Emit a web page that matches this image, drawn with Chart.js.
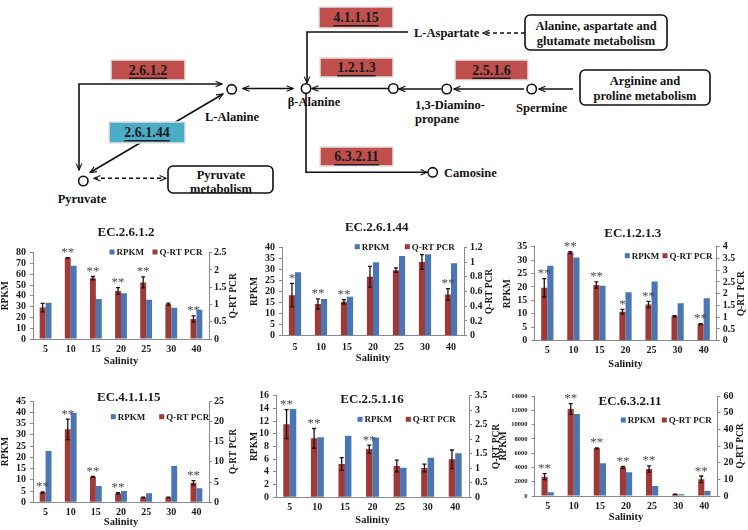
<!DOCTYPE html>
<html>
<head>
<meta charset="utf-8">
<script src="https://cdn.jsdelivr.net/npm/chart.js@4.4.1/dist/chart.umd.min.js"></script>
<style>
  html, body { margin: 0; padding: 0; background: #fff; }
  #page { position: relative; width: 748px; height: 530px; overflow: hidden; }
  #page canvas { position: absolute; }
  #pathway { position: absolute; left: 0; top: 0; }
  .box-label { font-size: 14px; text-decoration: underline; }
</style>
</head>
<body>
<div id="page">

<!-- pathway diagram (not data, just the sketch above the charts) -->
<svg id="pathway" width="748" height="212" font-family="'Liberation Serif', 'Times New Roman', serif" font-weight="bold">
  <defs>
    <marker id="ah" viewBox="0 0 10 10" refX="9" refY="5" markerWidth="8" markerHeight="8"
            markerUnits="userSpaceOnUse" orient="auto-start-reverse">
      <path d="M1,1.5 L9,5 L1,8.5" fill="none" stroke="#111" stroke-width="1.4"/>
    </marker>
  </defs>

  <g stroke="#111" stroke-width="1.6" fill="none">
    <path d="M222,84 H79 V170" marker-start="url(#ah)" marker-end="url(#ah)"/>
    <path d="M90,172.5 L223,94" marker-start="url(#ah)" marker-end="url(#ah)"/>
    <path d="M243,88.5 H293" marker-start="url(#ah)" marker-end="url(#ah)"/>
    <path d="M408,32 H307 V83" marker-end="url(#ah)"/>
    <path d="M388,88.5 H312" marker-end="url(#ah)"/>
    <path d="M306,93 V172.3 H427" marker-end="url(#ah)"/>
    <path d="M441,89 H399" marker-end="url(#ah)"/>
    <path d="M524,89 H454" marker-end="url(#ah)"/>
    <path d="M573,89 H539" marker-end="url(#ah)"/>
    <path d="M525,33 H483" stroke-dasharray="4 3" marker-end="url(#ah)"/>
    <path d="M94,178.3 H166" stroke-dasharray="4 3" marker-start="url(#ah)" marker-end="url(#ah)"/>
  </g>

  <!-- enzyme boxes -->
  <g stroke="#e2e2e2" stroke-width="1.5">
    <rect x="111" y="60" width="74" height="20" fill="#C0504D"/>
    <rect x="109" y="122" width="76" height="21" fill="#4BACC6"/>
    <rect x="319" y="7" width="74" height="21" fill="#C0504D"/>
    <rect x="320" y="58" width="73" height="19" fill="#C0504D"/>
    <rect x="320" y="147" width="73" height="19" fill="#C0504D"/>
    <rect x="455" y="60" width="73" height="20" fill="#C0504D"/>
  </g>
  <g fill="#1a1a1a" text-anchor="middle" dominant-baseline="central">
    <text class="box-label" x="148" y="70">2.6.1.2</text>
    <text class="box-label" x="147" y="132.5">2.6.1.44</text>
    <text class="box-label" x="356" y="17.5">4.1.1.15</text>
    <text class="box-label" x="356.5" y="67.5">1.2.1.3</text>
    <text class="box-label" x="356.5" y="156.5">6.3.2.11</text>
    <text class="box-label" x="491.5" y="70">2.5.1.6</text>
  </g>

  <!-- metabolism boxes -->
  <g fill="#fff" stroke="#111" stroke-width="1.6">
    <rect x="168" y="166" width="105" height="27" rx="5"/>
    <rect x="525" y="15" width="142" height="35" rx="5"/>
    <rect x="580" y="70" width="130" height="35" rx="5"/>
  </g>

  <!-- compounds -->
  <g fill="#fff" stroke="#111" stroke-width="1.6">
    <circle cx="83.3" cy="181" r="4.7"/>
    <circle cx="231.7" cy="89.3" r="4.7"/>
    <circle cx="306" cy="88.5" r="4.7"/>
    <circle cx="393.3" cy="88.5" r="4.7"/>
    <circle cx="446.7" cy="89" r="4.7"/>
    <circle cx="531.7" cy="89" r="4.7"/>
    <circle cx="432.7" cy="172.3" r="4.7"/>
  </g>

  <g fill="#111" font-size="12.5" dominant-baseline="central">
    <text x="82" y="199" text-anchor="middle">Pyruvate</text>
    <text x="232" y="117" text-anchor="middle">L-Alanine</text>
    <text x="314" y="102" text-anchor="middle">β-Alanine</text>
    <text x="415" y="105">1,3-Diamino-</text>
    <text x="415" y="119">propane</text>
    <text x="541.7" y="108.3" text-anchor="middle">Spermine</text>
    <text x="414" y="33">L-Aspartate</text>
    <text x="444" y="173">Camosine</text>
    <text x="221" y="174.5" text-anchor="middle">Pyruvate</text>
    <text x="221" y="188.5" text-anchor="middle">metabolism</text>
    <text x="596" y="26" text-anchor="middle">Alanine, aspartate and</text>
    <text x="596" y="41" text-anchor="middle">glutamate metabolism</text>
    <text x="645" y="81" text-anchor="middle">Arginine and</text>
    <text x="645" y="96" text-anchor="middle">proline metabolism</text>
  </g>
</svg>

<canvas id="c2612"></canvas>
<canvas id="c26144"></canvas>
<canvas id="c1213"></canvas>
<canvas id="c41115"></canvas>
<canvas id="c25116"></canvas>
<canvas id="c63211"></canvas>

<script>
// ---------------------------------------------------------------------------
// Data. Q-RT PCR values are on the right axis.
// ---------------------------------------------------------------------------
const salinity = ['5', '10', '15', '20', '25', '30', '40'];

// EC.2.6.1.2
const rpkm2612 = [33.5, 68, 37, 42.3, 36.5, 29, 27];
const qpcr2612 = [0.91, 2.35, 1.76, 1.39, 1.64, 1.01, 0.58];
const err2612 = [0.12, 0.01, 0.05, 0.1, 0.16, 0.03, 0.09];
const star2612 = ['', '**', '**', '**', '**', '', '**'];
const axis2612 = [80, 10, 2.5, 0.5];      // left max, left step, right max, right step

// EC.2.6.1.44
const rpkm26144 = [28.7, 16.6, 17.6, 33.2, 36.1, 36.8, 32.8];
const qpcr26144 = [0.55, 0.43, 0.46, 0.8, 0.89, 1.0, 0.56];
const err26144 = [0.16, 0.07, 0.03, 0.14, 0.03, 0.1, 0.08];
const star26144 = ['*', '**', '**', '', '', '', '**'];
const axis26144 = [40, 5, 1.2, 0.2];

// EC.1.2.1.3
const rpkm1213 = [27.9, 31, 20.5, 18, 22, 13.9, 15.8];
const qpcr1213 = [2.25, 3.75, 2.37, 1.23, 1.54, 1.04, 0.71];
const err1213 = [0.39, 0.04, 0.13, 0.1, 0.13, 0.03, 0.02];
const star1213 = ['**', '**', '**', '*', '**', '', '**'];
const axis1213 = [35, 5, 4, 0.5];

// EC.4.1.1.15
const rpkm41115 = [22.8, 39.8, 7.2, 5, 4, 16.1, 6.2];
const qpcr41115 = [2.4, 18.0, 6.3, 2.2, 1.2, 1.2, 4.8];
const err41115 = [0.15, 2.55, 0.1, 0.17, 0.05, 0.05, 0.57];
const star41115 = ['**', '**', '**', '**', '', '', '**'];
const axis41115 = [45, 5, 25, 5];

// EC.2.5.1.16
const rpkm25116 = [13.9, 9.45, 9.7, 9.4, 4.66, 6.24, 6.93];
const qpcr25116 = [2.52, 2.03, 1.15, 1.66, 1.08, 1.01, 1.31];
const err25116 = [0.5, 0.34, 0.22, 0.14, 0.2, 0.13, 0.32];
const star25116 = ['**', '**', '', '**', '', '', ''];
const axis25116 = [16, 2, 3.5, 0.5];

// EC.6.3.2.11
const rpkm63211 = [513, 11480, 4573, 3313, 1400, 233, 700];
const qpcr63211 = [11.6, 52.2, 28.6, 17.2, 16.2, 1.0, 10.0];
const err63211 = [1.8, 3.2, 0.3, 0.6, 1.9, 0.1, 2.0];
const star63211 = ['**', '**', '**', '**', '**', '', '**'];
const axis63211 = [14000, 2000, 60, 10];

// ---------------------------------------------------------------------------
// Style
// ---------------------------------------------------------------------------
const FONT = "'Liberation Serif', 'Times New Roman', serif";
const RED = '#9E3B38';
const BLUE = '#4A76B5';
const AXIS = '#8a8a8a';
const INK = '#1a1a1a';

Chart.defaults.font.family = FONT;
Chart.defaults.font.weight = 'bold';
Chart.defaults.font.size = 10;
Chart.defaults.color = INK;
Chart.defaults.animation = false;
Chart.defaults.plugins.legend.display = false;
Chart.defaults.plugins.tooltip.enabled = false;

const fmt = v => String(+Number(v).toFixed(2));

/**
 * One dual-axis bar panel. `lay` holds page positions (box, plot area, labels).
 */
function makeChart(id, lay, rpkm, qpcr, err, stars, axis) {
  const [cx, cy, cw, ch] = lay.box;
  const [al, at, ar, ab] = lay.area;
  const canvas = document.getElementById(id);
  canvas.width = cw;
  canvas.height = ch;
  canvas.style.left = cx + 'px';
  canvas.style.top = cy + 'px';

  // extra marks: error bars, asterisks, category labels, title, legend, axis titles
  const decor = {
    id: 'decor_' + id,
    afterDraw(chart) {
      const { ctx, chartArea } = chart;
      const y1 = chart.scales.y1;
      const xs = chart.scales.x;
      const meta = chart.getDatasetMeta(0);
      ctx.save();

      // error bars on Q-RT PCR
      ctx.strokeStyle = '#241010';
      ctx.lineWidth = 1.3;
      meta.data.forEach((bar, i) => {
        const v = qpcr[i], e = err[i];
        const top = y1.getPixelForValue(v + e);
        const bot = y1.getPixelForValue(v - e);
        ctx.beginPath();
        ctx.moveTo(bar.x, top); ctx.lineTo(bar.x, bot);
        ctx.moveTo(bar.x - 2, top); ctx.lineTo(bar.x + 2, top);
        ctx.moveTo(bar.x - 2, bot); ctx.lineTo(bar.x + 2, bot);
        ctx.stroke();
        if (stars[i]) {
          ctx.fillStyle = '#4a4a4a';
          ctx.font = '13px ' + FONT;
          ctx.textAlign = 'center';
          ctx.textBaseline = 'alphabetic';
          ctx.fillText(stars[i], bar.x, top - 1.5);
        }
      });

      // category labels
      ctx.fillStyle = INK;
      ctx.font = 'bold 10px ' + FONT;
      ctx.textAlign = 'center';
      ctx.textBaseline = 'middle';
      salinity.forEach((s, i) => {
        ctx.fillText(s, xs.getPixelForValue(i), lay.xLabelY - cy);
      });

      // title
      ctx.font = 'bold 13px ' + FONT;
      ctx.fillText(lay.title[0], lay.title[1] - cx, lay.title[2] - cy);

      // legend: RPKM first, then Q-RT PCR
      const [lb, lr, ly] = lay.legend;
      ctx.font = 'bold 9px ' + FONT;
      ctx.textAlign = 'left';
      ctx.fillStyle = BLUE;
      ctx.fillRect(lb - cx - 2.5, ly - cy - 2.5, 5, 5);
      ctx.fillStyle = RED;
      ctx.fillRect(lr - cx - 2.5, ly - cy - 2.5, 5, 5);
      ctx.fillStyle = INK;
      ctx.fillText('RPKM', lb - cx + 4.5, ly - cy + 0.5);
      ctx.fillText('Q-RT PCR', lr - cx + 4.5, ly - cy + 0.5);

      // x title
      ctx.font = 'bold 10.5px ' + FONT;
      ctx.textAlign = 'center';
      ctx.fillText('Salinity', (chartArea.left + chartArea.right) / 2, lay.salY - cy);

      // rotated y titles
      const midY = (chartArea.top + chartArea.bottom) / 2;
      ctx.font = 'bold 9.5px ' + FONT;
      [['RPKM', lay.yTitles[0]], ['Q-RT PCR', lay.yTitles[1]]].forEach(([txt, x]) => {
        ctx.save();
        ctx.translate(x - cx, midY);
        ctx.rotate(-Math.PI / 2);
        ctx.fillText(txt, 0, 0);
        ctx.restore();
      });

      ctx.restore();
    }
  };

  const yGrid = { drawOnChartArea: false, drawTicks: true, tickLength: 3, color: AXIS };

  return new Chart(canvas, {
    type: 'bar',
    data: {
      labels: salinity,
      datasets: [
        { label: 'Q-RT PCR', data: qpcr, yAxisID: 'y1', backgroundColor: RED },
        { label: 'RPKM', data: rpkm, yAxisID: 'y', backgroundColor: BLUE }
      ]
    },
    options: {
      responsive: false,
      devicePixelRatio: 1,
      categoryPercentage: 0.47,
      barPercentage: 1,
      layout: { padding: { top: at - cy, left: 0, right: 0, bottom: 0 } },
      scales: {
        x: {
          grid: { display: false },
          border: { color: AXIS },
          ticks: { display: false },
          afterFit: s => { s.height = cy + ch - ab; }
        },
        y: {
          position: 'left',
          min: 0, max: axis[0],
          grid: yGrid,
          border: { color: AXIS },
          ticks: {
            stepSize: axis[1], autoSkip: false, padding: 4,
            font: { size: lay.leftFont || 10 }, callback: fmt
          },
          afterFit: s => { s.width = al - cx; }
        },
        y1: {
          position: 'right',
          min: 0, max: axis[2],
          grid: yGrid,
          border: { color: AXIS },
          ticks: {
            stepSize: axis[3], autoSkip: false, padding: lay.rightPad,
            font: { size: 10 }, callback: fmt
          },
          afterFit: s => { s.width = cx + cw - ar; }
        }
      }
    },
    plugins: [decor]
  });
}

makeChart('c2612', {
  box: [0, 215, 250, 155], area: [33, 252.7, 209, 339],
  title: ['EC.2.6.1.2', 126, 233], legend: [112, 155, 252],
  xLabelY: 349, salY: 361, yTitles: [6, 234], rightPad: 2
}, rpkm2612, qpcr2612, err2612, star2612, axis2612);

makeChart('c26144', {
  box: [250, 210, 250, 160], area: [282, 247.3, 464, 335.7],
  title: ['EC.2.6.1.44', 376.7, 227.7], legend: [357.3, 407.3, 246.7],
  xLabelY: 347, salY: 358, yTitles: [255, 490], rightPad: 3
}, rpkm26144, qpcr26144, err26144, star26144, axis26144);

makeChart('c1213', {
  box: [495, 215, 253, 155], area: [534.3, 246.7, 716.7, 340.7],
  title: ['EC.1.2.1.3', 632.8, 233.3], legend: [627.3, 665, 255.7],
  xLabelY: 350.7, salY: 364, yTitles: [508, 742], rightPad: 3
}, rpkm1213, qpcr1213, err1213, star1213, axis1213);

makeChart('c41115', {
  box: [0, 385, 250, 145], area: [33, 401, 209, 502.3],
  title: ['EC.4.1.1.15', 128.8, 397.3], legend: [113.3, 161.7, 416.7],
  xLabelY: 512.5, salY: 522.5, yTitles: [6, 234], rightPad: 2
}, rpkm41115, qpcr41115, err41115, star41115, axis41115);

makeChart('c25116', {
  box: [250, 385, 250, 145], area: [276, 395.7, 469, 497.3],
  title: ['EC.2.5.1.16', 372, 400], legend: [360, 408.3, 419.3],
  xLabelY: 507, salY: 520.5, yTitles: [255, 497], rightPad: 3
}, rpkm25116, qpcr25116, err25116, star25116, axis25116);

makeChart('c63211', {
  box: [495, 385, 253, 145], area: [534.6, 396, 717.4, 496],
  title: ['EC.6.3.2.11', 630, 401.7], legend: [623.3, 664.3, 420],
  xLabelY: 506.7, salY: 517.5, yTitles: [503.3, 741], rightPad: 3, leftFont: 6.5
}, rpkm63211, qpcr63211, err63211, star63211, axis63211);
</script>
</div>
</body>
</html>
